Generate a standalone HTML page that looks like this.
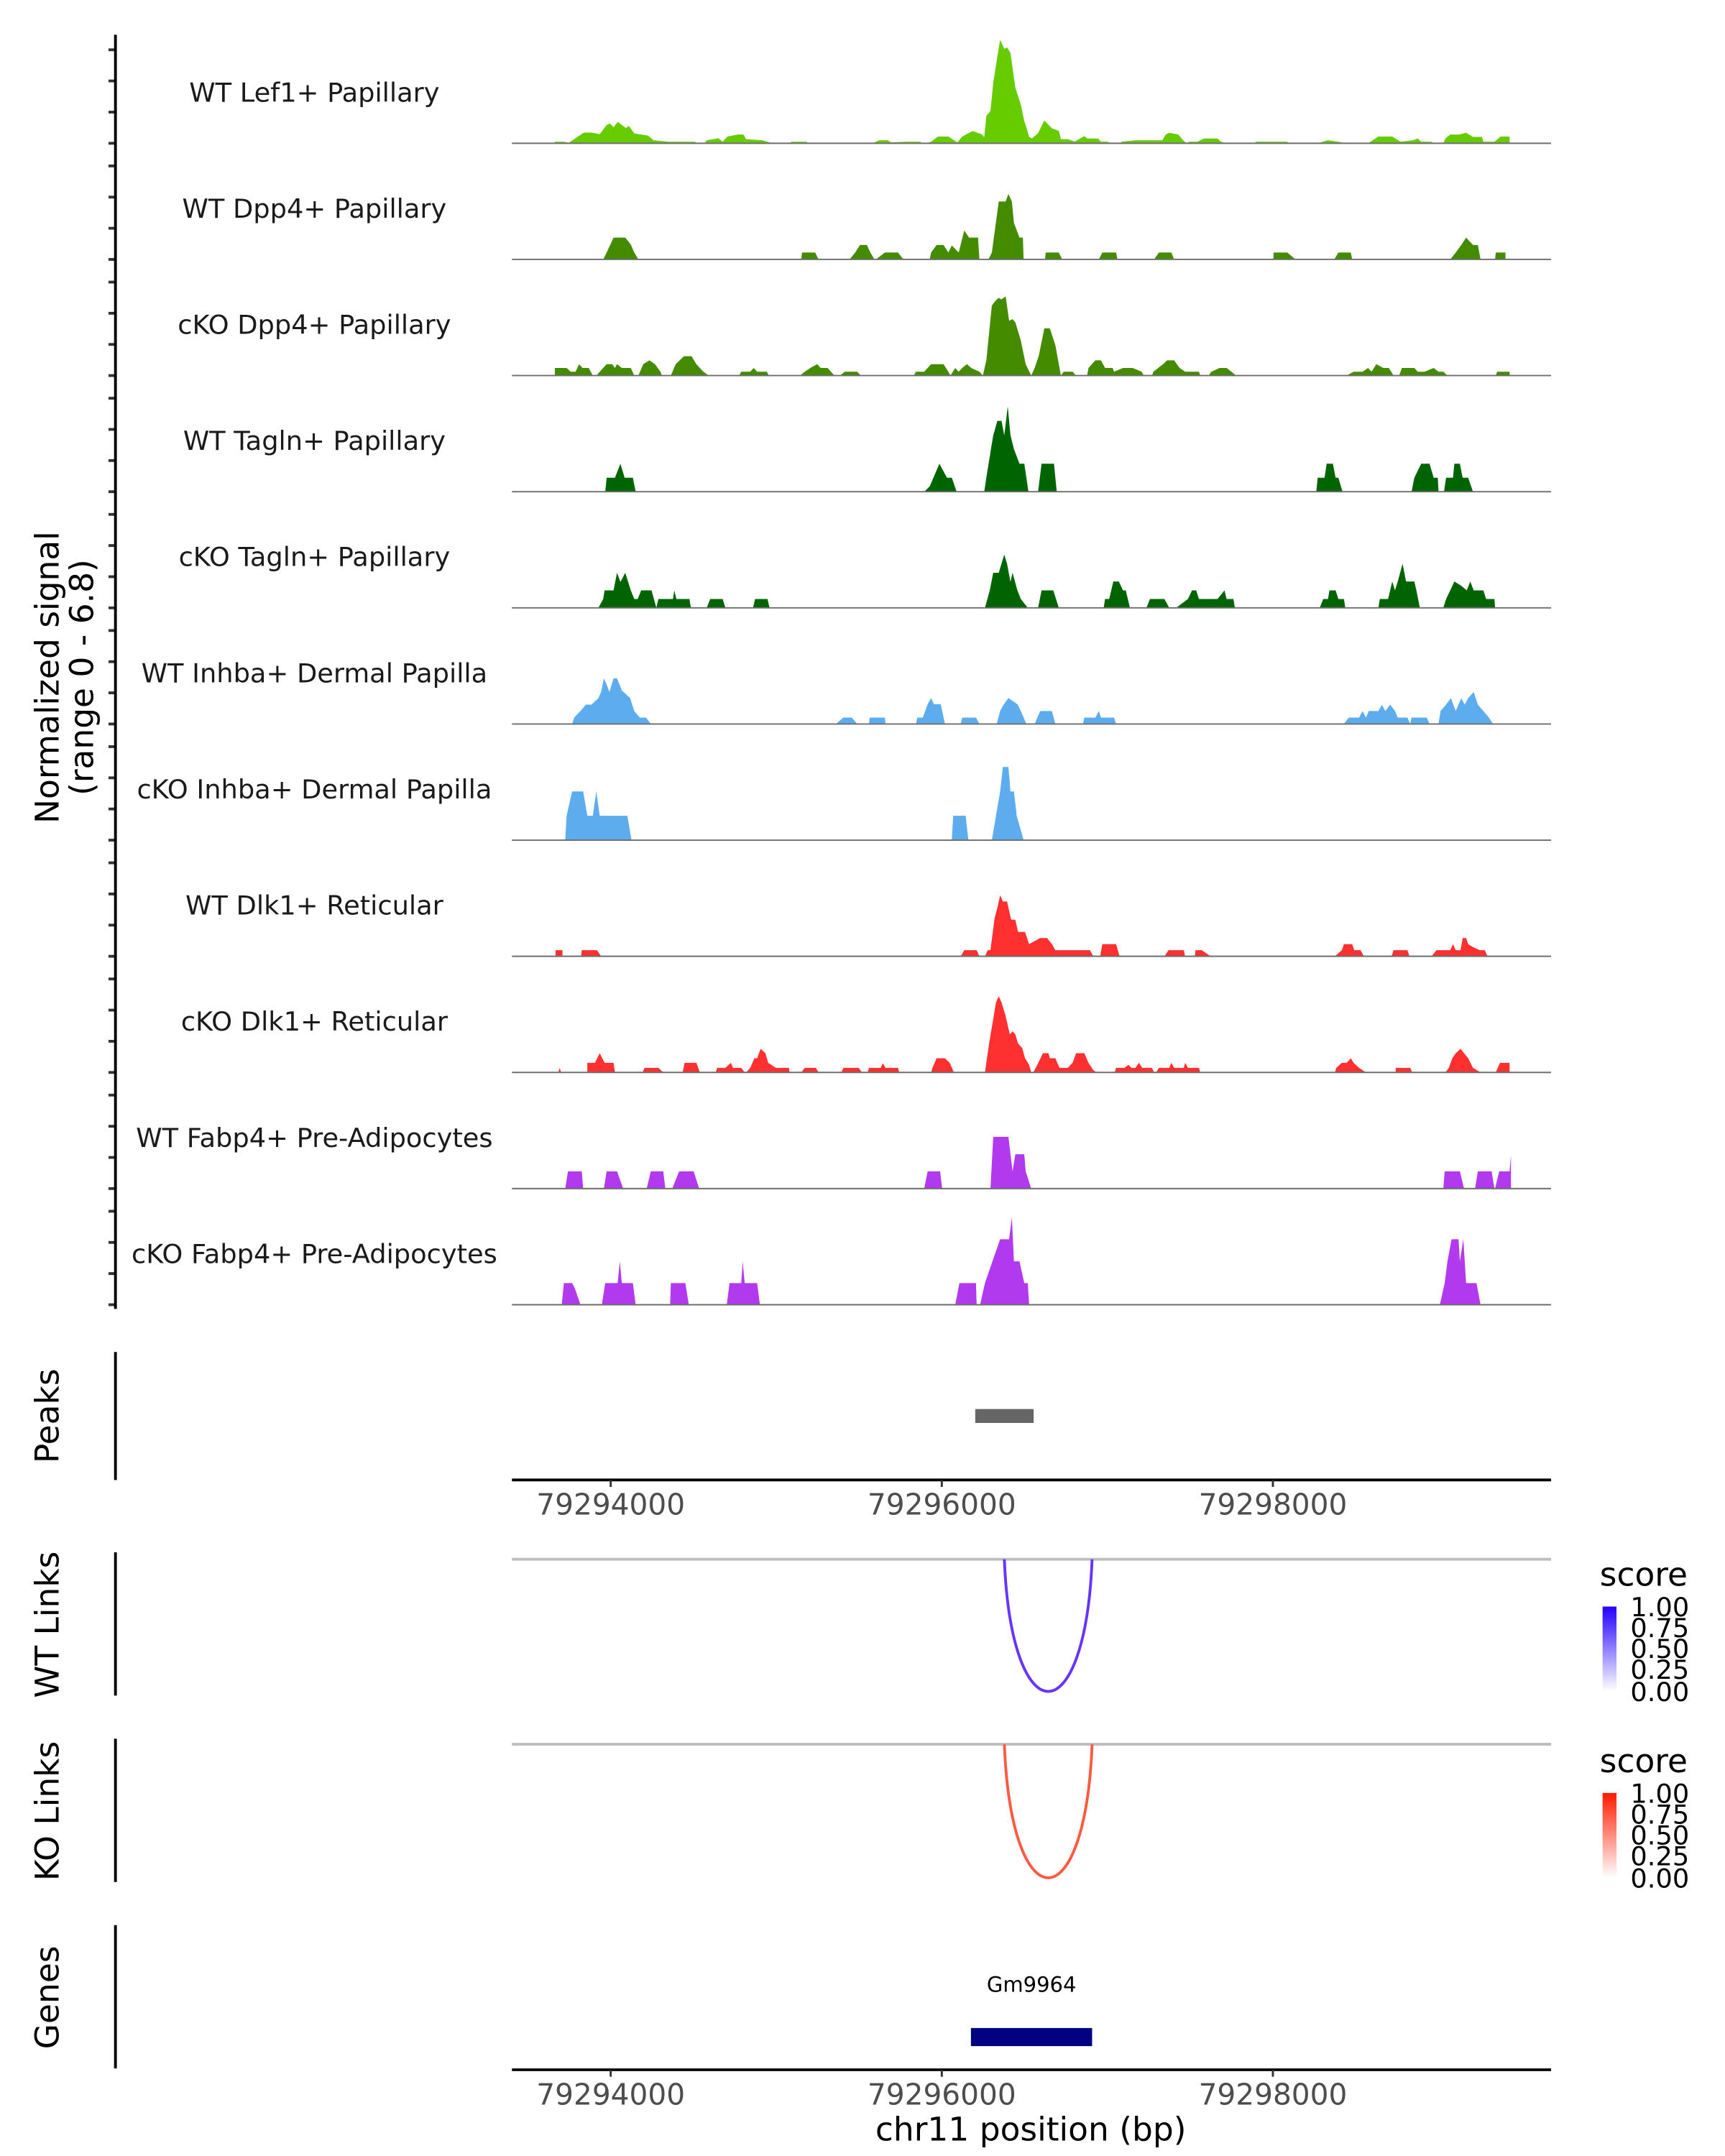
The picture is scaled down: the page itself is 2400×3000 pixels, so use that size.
<!DOCTYPE html>
<html><head><meta charset="utf-8"><style>
html,body{margin:0;padding:0;background:#fff;}
svg{display:block;}
text{font-family:"DejaVu Sans","Liberation Sans",sans-serif;}
</style></head><body>
<svg id="chart" width="2400" height="3000" viewBox="0 0 1240 1550" preserveAspectRatio="none" xmlns="http://www.w3.org/2000/svg">
<defs>
<linearGradient id="gBlue" x1="0" y1="1" x2="0" y2="0"><stop offset="0" stop-color="#ffffff"/><stop offset="1" stop-color="#2200ff"/></linearGradient>
<linearGradient id="gRed" x1="0" y1="1" x2="0" y2="0"><stop offset="0" stop-color="#ffffff"/><stop offset="1" stop-color="#ff1a00"/></linearGradient>
</defs>
<g id="tracks"></g>
<text transform="translate(42,487) rotate(-90)" text-anchor="middle" font-size="23.5" fill="#000">Normalized signal</text>
<text transform="translate(67,487) rotate(-90)" text-anchor="middle" font-size="23.5" fill="#000">(range 0 - 6.8)</text>
<line x1="83" y1="25" x2="83" y2="941" stroke="#000" stroke-width="2"/>

<line x1="83" y1="972" x2="83" y2="1064" stroke="#000" stroke-width="2"/>
<text transform="translate(42,1018) rotate(-90)" text-anchor="middle" font-size="23.5">Peaks</text>
<g id="peaks"></g>
<line x1="368" y1="1064" x2="1115" y2="1064" stroke="#000" stroke-width="2"/>
<g id="xticks1"></g>

<line x1="83" y1="1116" x2="83" y2="1219" stroke="#000" stroke-width="2"/>
<text transform="translate(42,1168) rotate(-90)" text-anchor="middle" font-size="23.5">WT Links</text>
<line x1="368" y1="1121" x2="1115" y2="1121" stroke="#bdbdbd" stroke-width="2"/>
<g id="wtlinks"></g>
<g>
<text x="1150" y="1140" font-size="23.5">score</text>
<rect x="1152" y="1155" width="10" height="61" fill="url(#gBlue)"/>
<g font-size="19">
<text x="1172" y="1162">1.00</text><text x="1172" y="1177">0.75</text><text x="1172" y="1192">0.50</text><text x="1172" y="1207">0.25</text><text x="1172" y="1223">0.00</text>
</g></g>

<line x1="83" y1="1250" x2="83" y2="1353" stroke="#000" stroke-width="2"/>
<text transform="translate(42,1302) rotate(-90)" text-anchor="middle" font-size="23.5">KO Links</text>
<line x1="368" y1="1254" x2="1115" y2="1254" stroke="#bdbdbd" stroke-width="2"/>
<g id="kolinks"></g>
<g>
<text x="1150" y="1274" font-size="23.5">score</text>
<rect x="1152" y="1289" width="10" height="61" fill="url(#gRed)"/>
<g font-size="19">
<text x="1172" y="1296">1.00</text><text x="1172" y="1311">0.75</text><text x="1172" y="1326">0.50</text><text x="1172" y="1341">0.25</text><text x="1172" y="1357">0.00</text>
</g></g>

<line x1="83" y1="1384" x2="83" y2="1487" stroke="#000" stroke-width="2"/>
<text transform="translate(42,1436) rotate(-90)" text-anchor="middle" font-size="23.5">Genes</text>
<g id="genes"></g>
<line x1="368" y1="1488" x2="1115" y2="1488" stroke="#000" stroke-width="2"/>
<g id="xticks2"></g>
<text x="741" y="1539" text-anchor="middle" font-size="23.5">chr11 position (bp)</text>
</svg>
<script>
// positions are bin indices (4.17 bp bins from regionStart); values are normalized signal
const regionStart = 79293350;
const binSize = 4.17;
const trackNames = ["WT Lef1+ Papillary","WT Dpp4+ Papillary","cKO Dpp4+ Papillary","WT Tagln+ Papillary","cKO Tagln+ Papillary","WT Inhba+ Dermal Papilla","cKO Inhba+ Dermal Papilla","WT Dlk1+ Reticular","cKO Dlk1+ Reticular","WT Fabp4+ Pre-Adipocytes","cKO Fabp4+ Pre-Adipocytes"];
const trackColors = ["#66cc00","#458b00","#458b00","#006400","#006400","#5cacee","#5cacee","#ff3030","#ff3030","#b23aee","#b23aee"];
const lef1Pos=[75,75,88,95,117,128,140,150,155,160,166,178,182,190,210,218,240,278,280,292,295,312,318,325,340,348,352,375,388,390,417,417,440,440,535,545,557,562,585,605,605,612,620,630,645,658,665,680,693,697,700,706,710,716,720,726,730,735,742,750,755,758,762,766,775,784,795,805,808,818,828,842,846,862,866,876,880,894,896,916,940,955,960,965,978,985,990,994,1006,1015,1035,1040,1048,1090,1090,1135,1140,1180,1195,1215,1218,1253,1268,1288,1300,1318,1325,1330,1345,1348,1362,1365,1372,1385,1395,1405,1418,1420,1436,1445,1458,1458];
const lef1Val=[0,.1,.1,.03,.7,.7,.6,1.2,1.3,1.05,1.4,1.0,1.15,.65,.5,.2,.1,.1,0,0,.2,.33,.1,.44,.58,.58,.27,.2,.03,0,0,.1,.1,0,0,.2,.2,.06,.1,.1,0,0,.1,.44,.44,.06,.44,.8,.6,.4,1.8,2.13,3.96,5.7,6.8,6.2,6.3,5.93,3.65,2.54,1.45,1.05,.42,.31,.66,1.5,.98,.82,.27,.27,.11,.47,.31,.31,.1,.1,0,0,.1,.2,.2,.2,.58,.69,.58,.2,0,.1,.1,.31,.31,.1,0,0,.1,.1,0,0,.2,.06,0,0,.44,.44,.1,.2,.31,.1,.1,0,0,.31,.57,.57,.69,.42,.42,.1,.1,.44,.44,0];
const wtDpp4Pos=[145,150,160,177,185,190,196,432,433,452,457,502,510,517,527,532,538,540,553,572,580,618,620,628,638,645,650,660,668,675,688,690,703,708,718,728,732,737,740,748,753,754,785,786,805,810,863,868,888,890,943,950,968,972,1116,1116,1136,1148,1204,1210,1228,1230,1372,1380,1388,1395,1405,1412,1416,1437,1438,1452,1452];
const wtDpp4Val=[0,.45,1.43,1.43,.98,.45,0,0,.45,.45,0,0,.45,.95,.95,.45,0,0,.45,.45,0,0,.45,.95,.95,.45,.92,.45,1.9,1.43,1.43,0,0,.45,3.8,3.8,4.3,3.8,2.4,1.43,1.43,0,0,.45,.45,0,0,.45,.45,0,0,.45,.45,0,0,.45,.45,0,0,.45,.45,0,0,.45,.95,1.43,.95,.95,0,0,.45,.45,0];
const koDpp4Pos=[75,75,92,98,105,110,115,124,130,135,145,150,158,162,165,172,185,190,196,203,212,220,228,230,243,250,262,273,280,290,298,342,345,358,363,368,382,385,430,437,445,455,460,470,480,488,495,513,518,595,598,610,620,638,645,648,655,660,665,672,678,690,695,700,708,713,718,722,728,733,738,742,750,757,765,770,776,784,792,800,805,808,812,825,830,846,848,858,866,872,883,885,898,906,912,925,928,940,942,956,962,972,980,988,1008,1010,1022,1026,1038,1048,1055,1062,1222,1232,1245,1253,1258,1265,1275,1283,1290,1298,1302,1320,1325,1335,1348,1355,1362,1368,1438,1440,1458,1458];
const koDpp4Val=[0,.5,.5,.25,.25,.75,.5,.5,0,0,.5,.75,.75,.5,.75,.5,.5,0,0,.75,1.0,.75,.25,0,0,.75,1.27,1.27,.75,.25,0,0,.25,.25,.5,.25,.25,0,0,.25,.5,.75,.5,.5,0,0,.25,.25,0,0,.25,.25,.75,.75,.25,0,.5,.25,.5,.75,.5,.25,0,1.0,4.6,4.9,5.1,5.0,5.2,3.6,3.7,3.5,2.3,.75,0,.5,1.3,3.1,3.1,2.0,.75,0,.25,.25,0,0,.5,1.0,1.0,.5,.5,.25,.5,.5,.5,.25,0,0,.25,.75,1.0,1.0,.5,.25,.25,0,0,.25,.5,.5,.25,0,0,.25,.25,.5,.25,.75,.5,.5,0,0,.5,.5,.25,.25,.5,.25,.25,0,0,.25,.25,0];
const wtTaglnPos=[148,150,162,170,176,188,192,610,618,632,643,650,657,697,700,710,716,722,726,731,735,740,748,755,761,775,780,798,802,1178,1180,1190,1193,1202,1206,1210,1216,1316,1320,1330,1342,1348,1354,1355,1363,1366,1376,1378,1386,1390,1398,1405];
const wtTaglnVal=[0,.92,.92,1.84,.92,.92,0,0,.35,1.84,.92,.92,0,0,.92,3.7,4.65,4.65,3.7,5.6,3.7,2.8,1.84,1.84,0,0,1.84,1.84,0,0,.92,.92,1.84,1.84,.92,.92,0,0,.92,1.84,1.84,.92,.92,0,0,.92,.92,1.84,1.84,.92,.92,0];
const koTaglnPos=[138,145,147,160,165,170,177,185,190,195,200,215,222,225,232,246,248,251,270,272,295,300,318,322,362,365,383,386,698,705,710,718,726,730,735,738,745,750,760,775,780,797,805,870,872,878,884,892,898,902,908,932,937,958,965,975,992,998,1004,1008,1035,1045,1048,1058,1060,1183,1188,1195,1197,1206,1210,1218,1220,1268,1270,1282,1288,1292,1296,1303,1308,1320,1323,1328,1362,1366,1372,1378,1388,1396,1401,1406,1420,1424,1436,1437];
const koTaglnVal=[0,.58,1.15,1.15,2.3,1.7,2.3,1.15,.58,.58,1.15,1.15,0,.58,.58,.58,1.15,.58,.58,0,0,.58,.58,0,0,.58,.58,0,0,1.15,2.3,2.3,3.5,2.9,1.7,2.3,1.15,.58,0,0,1.15,1.15,0,0,.58,.58,1.73,1.73,1.15,1.15,0,0,.58,.58,0,0,.58,1.15,1.15,.58,.58,1.15,.58,.58,0,0,.58,.58,1.15,1.15,.58,.58,0,0,.58,.58,1.73,1.15,1.73,2.9,1.73,1.73,1.15,0,0,.58,1.15,1.73,1.45,1.15,1.73,1.15,1.15,.58,.58,0];
const wtInhbaPos=[100,103,112,120,128,138,142,146,150,154,160,165,172,184,190,198,207,214,482,493,505,513,530,531,553,554,598,600,608,615,620,624,634,640,663,665,685,690,715,720,725,732,745,750,758,770,778,795,800,840,842,858,863,866,885,888,1218,1225,1240,1245,1250,1254,1268,1273,1278,1285,1292,1296,1310,1314,1316,1338,1342,1355,1358,1366,1373,1380,1388,1393,1398,1406,1412,1420,1428,1434];
const wtInhbaVal=[0,.42,.85,1.27,1.27,1.7,2.1,3.0,2.6,2.1,3.0,3.0,2.2,1.7,.85,.42,.42,0,0,.42,.42,0,0,.42,.42,0,0,.42,.42,1.3,1.7,1.3,1.3,0,0,.42,.42,0,0,.85,1.27,1.7,1.3,.85,0,0,.85,.85,0,0,.42,.42,.85,.42,.42,0,0,.42,.42,.85,.42,.85,.85,1.27,.85,1.27,.85,.42,.42,0,.42,.42,0,0,.85,1.27,1.7,.85,1.7,1.27,1.7,2.1,1.27,.85,.42,0];
const koInhbaPos=[90,92,100,116,122,130,135,140,180,186,650,652,670,674,708,714,720,724,732,735,740,744,754];
const koInhbaVal=[0,1.6,3.2,3.2,1.6,1.6,3.2,1.6,1.6,0,0,1.6,1.6,0,0,1.6,3.2,4.8,4.8,3.2,3.2,1.6,0];
const wtDlk1Pos=[76,76,86,86,113,114,136,142,663,668,686,690,698,702,706,712,716,720,724,730,736,742,746,756,762,770,778,788,795,800,850,855,865,868,888,893,958,964,986,988,1002,1003,1012,1025,1205,1215,1218,1230,1233,1242,1247,1287,1290,1310,1313,1345,1352,1372,1376,1380,1387,1390,1395,1398,1405,1415,1422,1426];
const wtDlk1Val=[0,.4,.4,0,0,.4,.4,0,0,.4,.4,0,0,.4,.4,2.5,3.2,4.0,3.6,3.6,2.4,2.4,1.6,1.6,.8,1.0,1.2,1.2,.8,.4,.4,0,0,.8,.8,0,0,.4,.4,0,0,.4,.4,0,0,.4,.8,.8,.4,.4,0,0,.4,.4,0,0,.4,.4,.8,.4,.4,1.2,1.2,.8,.6,.4,.4,0];
const koDlk1Pos=[80,82,84,122,122,133,140,147,160,162,202,205,225,232,260,263,280,285,308,310,322,330,333,345,350,352,358,364,368,373,380,384,395,414,415,432,437,453,457,490,493,515,520,528,530,547,550,554,572,574,620,622,628,640,647,653,698,704,710,714,718,722,728,734,738,742,746,752,756,762,765,768,775,782,790,792,800,806,818,825,830,842,848,855,860,886,888,900,906,910,916,921,926,940,943,946,950,965,968,972,986,988,992,1008,1010,1205,1207,1215,1222,1228,1232,1240,1250,1293,1293,1314,1317,1365,1370,1375,1380,1387,1392,1398,1405,1416,1438,1444,1458,1458];
const koDlk1Val=[0,.3,0,0,.63,.63,1.26,.63,.63,0,0,.3,.3,0,0,.63,.63,0,0,.3,.3,.63,.3,.3,0,0,.3,.93,.93,1.55,1.26,.63,.3,.3,0,0,.3,.3,0,0,.3,.3,0,0,.3,.3,.6,.3,.3,0,0,.3,.93,.93,.63,0,0,1.9,3.5,4.6,5.0,4.6,3.7,2.5,2.7,2.5,1.9,1.6,.93,.5,0,0,.6,1.26,1.26,.93,.93,.3,.3,.63,1.26,1.26,.63,.15,0,0,.3,.3,.5,.3,.3,.63,.3,.3,0,0,.3,.3,.63,.3,.3,.63,.3,.3,0,0,.3,.63,.63,.93,.63,.3,0,0,.3,.3,0,0,.3,.93,1.26,1.55,1.26,.93,.3,0,0,.63,.63,0];
const wtFabp4Pos=[90,94,114,116,146,150,165,174,208,214,232,235,245,255,276,284,610,615,633,636,706,710,732,738,742,755,757,765,1362,1364,1386,1392,1408,1412,1432,1436,1437,1443,1458,1460,1460];
const wtFabp4Val=[0,1.13,1.13,0,0,1.13,1.13,0,0,1.13,1.13,0,0,1.13,1.13,0,0,1.13,1.13,0,0,3.4,3.4,1.13,2.25,2.25,1.13,0,0,1.13,1.13,0,0,1.13,1.13,0,0,1.13,1.13,2.2,0];
const koFabp4Pos=[85,88,100,104,112,143,148,166,169,172,188,192,242,243,264,269,324,328,345,347,350,368,372,655,661,685,686,691,698,710,720,733,737,740,748,755,760,762,1357,1364,1368,1374,1384,1386,1391,1395,1410,1416];
const koFabp4Val=[0,1.42,1.42,1.07,0,0,1.42,1.42,2.85,1.42,1.42,0,0,1.42,1.42,0,0,1.42,1.42,2.85,1.42,1.42,0,0,1.42,1.42,0,0,1.42,3.0,4.3,4.3,5.75,2.85,2.85,1.42,1.42,0,0,1.42,2.85,4.3,4.3,2.85,4.3,1.42,1.42,0];

const tickPositions=[79294000,79296000,79298000];
const tickLabels=["79294000","79296000","79298000"];
const peakStart=[79296202];
const peakEnd=[79296555];
const wtLinkStart=[79296378];
const wtLinkEnd=[79296908];
const wtLinkScore=[0.72];
const koLinkStart=[79296378];
const koLinkEnd=[79296908];
const koLinkScore=[0.72];
const geneName=["Gm9964"];
const geneStart=[79296176];
const geneEnd=[79296908];

const allPos=[lef1Pos,wtDpp4Pos,koDpp4Pos,wtTaglnPos,koTaglnPos,wtInhbaPos,koInhbaPos,wtDlk1Pos,koDlk1Pos,wtFabp4Pos,koFabp4Pos];
const allVal=[lef1Val,wtDpp4Val,koDpp4Val,wtTaglnVal,koTaglnVal,wtInhbaVal,koInhbaVal,wtDlk1Val,koDlk1Val,wtFabp4Val,koFabp4Val];

const NS="http://www.w3.org/2000/svg";
function xScale(bp){return 677+(bp-79296000)*0.119;}
function binToBp(b){return regionStart+b*binSize;}
const trackStep=83.5, unitPx=10.95;
function baseY(i){return 103+trackStep*i;}
function yScale(i,v){return baseY(i)-v*unitPx;}
function mk(tag,attrs,parent){const e=document.createElementNS(NS,tag);for(const k in attrs)e.setAttribute(k,attrs[k]);parent.appendChild(e);return e;}

const tg=document.getElementById('tracks');
for(let i=0;i<trackNames.length;i++){
  const g=mk('g',{},tg);
  
  
  const lab=mk('text',{x:226,y:baseY(i)-30,'text-anchor':'middle','font-size':19,fill:'#1a1a1a'},g);
  lab.textContent=trackNames[i];
  
  
  const P=allPos[i],V=allVal[i];
  let pts=[xScale(binToBp(P[0]))+','+baseY(i)];
  for(let j=0;j<P.length;j++)pts.push(xScale(binToBp(P[j])).toFixed(2)+','+yScale(i,V[j]).toFixed(2));
  pts.push(xScale(binToBp(P[P.length-1]))+','+baseY(i));
  const poly=mk('polygon',{points:pts.join(' '),fill:trackColors[i]},g);
  
  
  const bl=mk('line',{x1:368,x2:1115,y1:baseY(i),y2:baseY(i),stroke:'#6e6e6e','stroke-width':1},g);
  
  
  for(let k=0;k<4;k++){
    const t=mk('line',{x1:78,x2:83,y1:baseY(i)-k*22.4,y2:baseY(i)-k*22.4,stroke:'#333','stroke-width':2},g);
    
    
  }
}
const pg=document.getElementById('peaks');
for(let i=0;i<peakStart.length;i++){
  const r=mk('rect',{x:xScale(peakStart[i]),y:1013,width:xScale(peakEnd[i])-xScale(peakStart[i]),height:10,fill:'#666'},pg);
  
  
}
function ticks(id,y){
  const g=document.getElementById(id);
  for(let i=0;i<tickPositions.length;i++){
    const x=xScale(tickPositions[i]);
    const l=mk('line',{x1:x,x2:x,y1:y,y2:y+5,stroke:'#333','stroke-width':1.5},g);
    
    
    const t=mk('text',{x:x,y:y+25,'text-anchor':'middle','font-size':21,fill:'#4d4d4d'},g);
    t.textContent=tickLabels[i];
    
    
  }
}
ticks('xticks1',1064);ticks('xticks2',1488);
function links(id,S,E,SC,top,depth,hi){
  const g=document.getElementById(id);
  for(let i=0;i<S.length;i++){
    const x1=xScale(S[i]),x2=xScale(E[i]);
    const yb=top+depth*SC[i]/0.72;
    const cy=top+(yb-top)*4/3;
    const p=mk('path',{d:`M${x1},${top} C${x1+(x2-x1)*0.08},${cy} ${x2-(x2-x1)*0.08},${cy} ${x2},${top}`,fill:'none',stroke:hi,'stroke-width':2},g);
    
    
  }
}
links('wtlinks',wtLinkStart,wtLinkEnd,wtLinkScore,1121,95,'#6633ff');
links('kolinks',koLinkStart,koLinkEnd,koLinkScore,1254,96,'#ff5a40');
const gg=document.getElementById('genes');
for(let i=0;i<geneName.length;i++){
  const r=mk('rect',{x:xScale(geneStart[i]),y:1458,width:xScale(geneEnd[i])-xScale(geneStart[i]),height:13,fill:'#000080'},gg);
  
  
  const t=mk('text',{x:(xScale(geneStart[i])+xScale(geneEnd[i]))/2,y:1432,'text-anchor':'middle','font-size':15,fill:'#000'},gg);
  t.textContent=geneName[i];
  
  
}
</script>
</body></html>
